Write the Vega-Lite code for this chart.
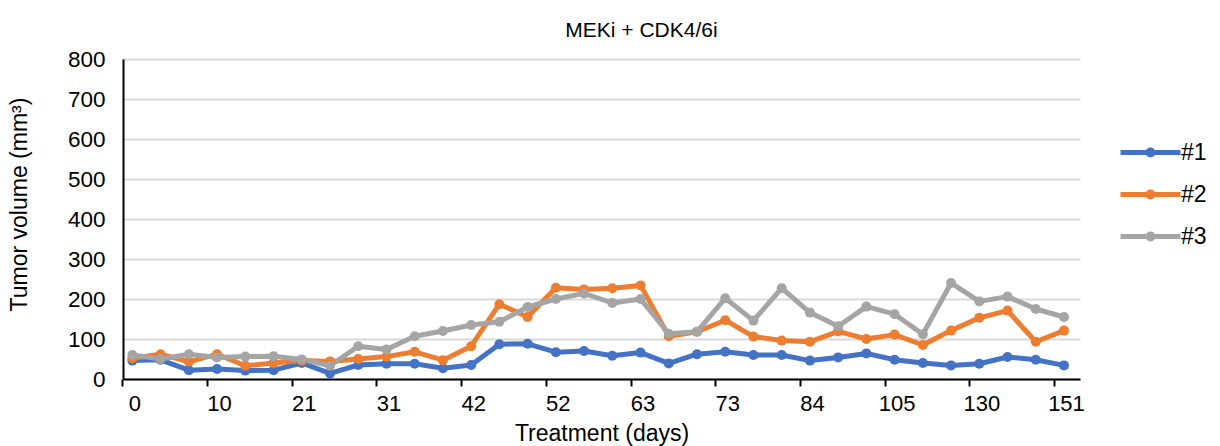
{
  "$schema": "https://vega.github.io/schema/vega-lite/v6.json",
  "autosize": {"type": "none"},
  "width": 957,
  "height": 320,
  "padding": {"left": 123, "top": 59, "right": 140, "bottom": 67},
  "background": "white",
  "config": {
    "font": "Liberation Sans",
    "view": {"stroke": null},
    "axis": {"labelColor": "#000000", "titleColor": "#000000", "labelFont": "Liberation Sans", "titleFont": "Liberation Sans", "titleFontWeight": "normal"}
  },
  "title": {"text": "MEKi + CDK4/6i", "fontSize": 21, "fontWeight": "normal", "color": "#000000", "font": "Liberation Sans", "offset": 7, "dx": 40},
  "data": {
    "values": [
      {"day": 0, "series": "#1", "volume": 46}, {"day": 0, "series": "#2", "volume": 52}, {"day": 0, "series": "#3", "volume": 60},
      {"day": 3, "series": "#1", "volume": 48}, {"day": 3, "series": "#2", "volume": 62}, {"day": 3, "series": "#3", "volume": 50},
      {"day": 7, "series": "#1", "volume": 22}, {"day": 7, "series": "#2", "volume": 43}, {"day": 7, "series": "#3", "volume": 62},
      {"day": 10, "series": "#1", "volume": 25}, {"day": 10, "series": "#2", "volume": 62}, {"day": 10, "series": "#3", "volume": 54},
      {"day": 14, "series": "#1", "volume": 21}, {"day": 14, "series": "#2", "volume": 33}, {"day": 14, "series": "#3", "volume": 56},
      {"day": 17, "series": "#1", "volume": 22}, {"day": 17, "series": "#2", "volume": 40}, {"day": 17, "series": "#3", "volume": 57},
      {"day": 21, "series": "#1", "volume": 40}, {"day": 21, "series": "#2", "volume": 46}, {"day": 21, "series": "#3", "volume": 49},
      {"day": 24, "series": "#1", "volume": 14}, {"day": 24, "series": "#2", "volume": 44}, {"day": 24, "series": "#3", "volume": 33},
      {"day": 28, "series": "#1", "volume": 35}, {"day": 28, "series": "#2", "volume": 50}, {"day": 28, "series": "#3", "volume": 82},
      {"day": 31, "series": "#1", "volume": 38}, {"day": 31, "series": "#2", "volume": 56}, {"day": 31, "series": "#3", "volume": 74},
      {"day": 35, "series": "#1", "volume": 38}, {"day": 35, "series": "#2", "volume": 68}, {"day": 35, "series": "#3", "volume": 107},
      {"day": 38, "series": "#1", "volume": 27}, {"day": 38, "series": "#2", "volume": 47}, {"day": 38, "series": "#3", "volume": 120},
      {"day": 42, "series": "#1", "volume": 35}, {"day": 42, "series": "#2", "volume": 82}, {"day": 42, "series": "#3", "volume": 135},
      {"day": 45, "series": "#1", "volume": 87}, {"day": 45, "series": "#2", "volume": 187}, {"day": 45, "series": "#3", "volume": 143},
      {"day": 49, "series": "#1", "volume": 88}, {"day": 49, "series": "#2", "volume": 155}, {"day": 49, "series": "#3", "volume": 180},
      {"day": 52, "series": "#1", "volume": 67}, {"day": 52, "series": "#2", "volume": 228}, {"day": 52, "series": "#3", "volume": 200},
      {"day": 56, "series": "#1", "volume": 70}, {"day": 56, "series": "#2", "volume": 224}, {"day": 56, "series": "#3", "volume": 214},
      {"day": 59, "series": "#1", "volume": 58}, {"day": 59, "series": "#2", "volume": 227}, {"day": 59, "series": "#3", "volume": 190},
      {"day": 63, "series": "#1", "volume": 66}, {"day": 63, "series": "#2", "volume": 234}, {"day": 63, "series": "#3", "volume": 200},
      {"day": 66, "series": "#1", "volume": 39}, {"day": 66, "series": "#2", "volume": 107}, {"day": 66, "series": "#3", "volume": 113},
      {"day": 70, "series": "#1", "volume": 62}, {"day": 70, "series": "#2", "volume": 118}, {"day": 70, "series": "#3", "volume": 118},
      {"day": 73, "series": "#1", "volume": 68}, {"day": 73, "series": "#2", "volume": 147}, {"day": 73, "series": "#3", "volume": 202},
      {"day": 77, "series": "#1", "volume": 60}, {"day": 77, "series": "#2", "volume": 106}, {"day": 77, "series": "#3", "volume": 146},
      {"day": 80, "series": "#1", "volume": 60}, {"day": 80, "series": "#2", "volume": 96}, {"day": 80, "series": "#3", "volume": 227},
      {"day": 84, "series": "#1", "volume": 46}, {"day": 84, "series": "#2", "volume": 93}, {"day": 84, "series": "#3", "volume": 166},
      {"day": 91, "series": "#1", "volume": 54}, {"day": 91, "series": "#2", "volume": 119}, {"day": 91, "series": "#3", "volume": 132},
      {"day": 98, "series": "#1", "volume": 64}, {"day": 98, "series": "#2", "volume": 100}, {"day": 98, "series": "#3", "volume": 181},
      {"day": 105, "series": "#1", "volume": 48}, {"day": 105, "series": "#2", "volume": 111}, {"day": 105, "series": "#3", "volume": 162},
      {"day": 113, "series": "#1", "volume": 40}, {"day": 113, "series": "#2", "volume": 85}, {"day": 113, "series": "#3", "volume": 112},
      {"day": 122, "series": "#1", "volume": 34}, {"day": 122, "series": "#2", "volume": 121}, {"day": 122, "series": "#3", "volume": 240},
      {"day": 130, "series": "#1", "volume": 38}, {"day": 130, "series": "#2", "volume": 153}, {"day": 130, "series": "#3", "volume": 194},
      {"day": 137, "series": "#1", "volume": 55}, {"day": 137, "series": "#2", "volume": 171}, {"day": 137, "series": "#3", "volume": 206},
      {"day": 144, "series": "#1", "volume": 48}, {"day": 144, "series": "#2", "volume": 93}, {"day": 144, "series": "#3", "volume": 175},
      {"day": 151, "series": "#1", "volume": 34}, {"day": 151, "series": "#2", "volume": 121}, {"day": 151, "series": "#3", "volume": 155}
    ]
  },
  "encoding": {
    "x": {
      "field": "day", "type": "ordinal",
      "scale": {"type": "point", "padding": 0.45, "align": 0.37},
      "axis": {
        "title": "Treatment (days)", "titleFontSize": 23, "titlePadding": 8,
        "values": [0, 10, 21, 31, 42, 52, 63, 73, 84, 105, 130, 151],
        "labelAngle": 0, "labelFontSize": 22, "labelPadding": 7,
        "tickOffset": -10, "labelOffset": 12,
        "tickSize": 7, "tickWidth": 2, "tickColor": "#000000",
        "domainColor": "#000000", "domainWidth": 2, "grid": false
      }
    },
    "y": {
      "field": "volume", "type": "quantitative",
      "scale": {"domain": [0, 800], "nice": false},
      "axis": {
        "title": "Tumor volume (mm³)", "titleFontSize": 23,
        "titleX": -104, "titleY": 145, "titleAlign": "center", "titleBaseline": "middle", "titleAngle": -90,
        "values": [0, 100, 200, 300, 400, 500, 600, 700, 800],
        "labelFontSize": 22.5, "labelPadding": 18, "ticks": false, "tickSize": 0,
        "domainColor": "#000000", "domainWidth": 2,
        "grid": true, "gridColor": "#D9D9D9", "gridWidth": 2
      }
    },
    "color": {
      "field": "series", "type": "nominal",
      "scale": {"domain": ["#1", "#2", "#3"], "range": ["#4472C4", "#ED7D31", "#A5A5A5"]},
      "legend": {
        "title": null, "orient": "none", "legendX": 1015, "legendY": 81, "padding": 0,
        "labelFontSize": 23, "labelColor": "#000000", "labelFont": "Liberation Sans",
        "labelOffset": 18, "rowPadding": 17,
        "symbolType": "M-3,0L3,0M-0.25,0A0.25,0.25,0,1,1,0.25,0A0.25,0.25,0,1,1,-0.25,0Z",
        "symbolSize": 400, "symbolStrokeWidth": 5,
        "encode": {"symbols": {"update": {
          "fill": {"scale": "color", "field": "value"},
          "stroke": {"scale": "color", "field": "value"},
          "strokeWidth": {"value": 5},
          "opacity": {"value": 1}
        }}}
      }
    }
  },
  "layer": [
    {"mark": {"type": "line", "strokeWidth": 5, "strokeJoin": "round", "strokeCap": "round"}},
    {"mark": {"type": "point", "filled": true, "size": 100, "opacity": 1}}
  ]
}
